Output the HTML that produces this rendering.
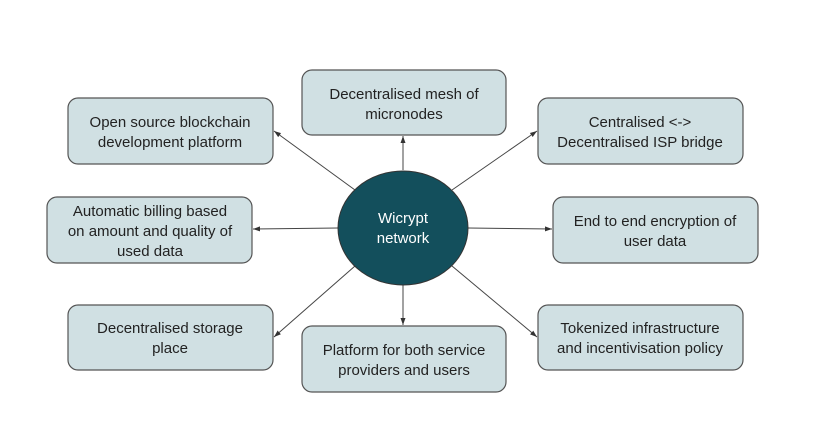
<!DOCTYPE html>
<html><head><style>
body{margin:0;background:#fff;}
svg{display:block;}
text{font-family:"Liberation Sans",Arial,sans-serif;font-size:15px;fill:#222;text-anchor:middle;}
.b{fill:#d0e0e3;stroke:#555;stroke-width:1.2;}
line{stroke:#444;stroke-width:1;marker-end:url(#a);}
</style></head><body>
<svg width="831" height="423" viewBox="0 0 831 423">
<defs><marker id="a" markerWidth="8" markerHeight="8" refX="7" refY="4" orient="auto" markerUnits="userSpaceOnUse"><path d="M0,1.5 L7,4 L0,6.5z" fill="#333"/></marker></defs>
<line x1="403" y1="170" x2="403" y2="136"/>
<line x1="403" y1="285" x2="403" y2="325"/>
<line x1="338" y1="228" x2="253" y2="229"/>
<line x1="468" y1="228" x2="552" y2="229"/>
<line x1="355" y1="190" x2="274" y2="131"/>
<line x1="452" y1="190" x2="537" y2="131"/>
<line x1="355" y1="266" x2="274" y2="337"/>
<line x1="452" y1="266" x2="537" y2="337"/>
<rect class="b" x="68" y="98" width="205" height="66" rx="10"/>
<text x="170" y="127">Open source blockchain</text><text x="170" y="147">development platform</text>
<rect class="b" x="302" y="70" width="204" height="65" rx="10"/>
<text x="404" y="99">Decentralised mesh of</text><text x="404" y="119">micronodes</text>
<rect class="b" x="538" y="98" width="205" height="66" rx="10"/>
<text x="640" y="127">Centralised &lt;-&gt;</text><text x="640" y="147">Decentralised ISP bridge</text>
<rect class="b" x="47" y="197" width="205" height="66" rx="10"/>
<text x="150" y="216">Automatic billing based</text><text x="150" y="236">on amount and quality of</text><text x="150" y="256">used data</text>
<rect class="b" x="553" y="197" width="205" height="66" rx="10"/>
<text x="655" y="226">End to end encryption of</text><text x="655" y="246">user data</text>
<rect class="b" x="68" y="305" width="205" height="65" rx="10"/>
<text x="170" y="333">Decentralised storage</text><text x="170" y="353">place</text>
<rect class="b" x="302" y="326" width="204" height="66" rx="10"/>
<text x="404" y="355">Platform for both service</text><text x="404" y="375">providers and users</text>
<rect class="b" x="538" y="305" width="205" height="65" rx="10"/>
<text x="640" y="333">Tokenized infrastructure</text><text x="640" y="353">and incentivisation policy</text>
<ellipse cx="403" cy="228" rx="65" ry="57" fill="#134f5c" stroke="#333" stroke-width="1"/>
<text x="403" y="223" style="fill:#fff">Wicrypt</text><text x="403" y="243" style="fill:#fff">network</text>
</svg>
</body></html>
